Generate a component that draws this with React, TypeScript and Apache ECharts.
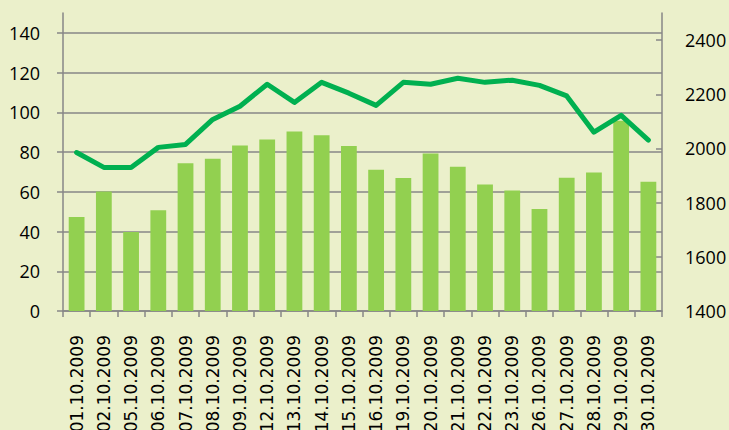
import React, { useEffect, useRef } from "react";
import * as echarts from "echarts";

const categories = [
  "01.10.2009", "02.10.2009", "05.10.2009", "06.10.2009", "07.10.2009", "08.10.2009",
  "09.10.2009", "12.10.2009", "13.10.2009", "14.10.2009", "15.10.2009", "16.10.2009",
  "19.10.2009", "20.10.2009", "21.10.2009", "22.10.2009", "23.10.2009", "26.10.2009",
  "27.10.2009", "28.10.2009", "29.10.2009", "30.10.2009",
];

const barValues = [
  47.3, 60.2, 39.8, 50.7, 74.4, 76.6, 83.3, 86.3, 90.3, 88.5, 83.1,
  71.1, 66.9, 79.3, 72.6, 63.7, 60.7, 51.3, 67.1, 69.7, 95.8, 65.1,
];

const lineValues = [
  1985, 1930, 1930, 2004, 2015, 2107, 2156, 2237, 2170, 2244, 2204,
  2159, 2244, 2237, 2259, 2244, 2252, 2233, 2194, 2060, 2122, 2031,
];

const BG = "#EBF0CB";
const GRID = "#878787";
const YFONT = "Open Sans";
const XFONT = "DejaVu Sans";

export default function App() {
  const ref = useRef<HTMLDivElement>(null);
  useEffect(() => {
    document.body.style.margin = "0";
    document.documentElement.style.overflow = "hidden";
    document.body.style.overflow = "hidden";
    const chart = echarts.init(ref.current!, null, { renderer: "svg" });
    chart.setOption({
      animation: false,
      backgroundColor: BG,
      grid: {
        left: 63,
        right: 67,
        top: 13,
        bottom: 119,
        containLabel: false,
        outerBoundsMode: "none",
      },
      xAxis: {
        type: "category",
        data: categories,
        boundaryGap: true,
        axisLine: { show: true, lineStyle: { color: GRID, width: 1.5 } },
        axisTick: { show: true, length: 6, lineStyle: { color: GRID, width: 1.5 } },
        axisLabel: {
          rotate: 90,
          interval: 0,
          margin: 24,
          color: "#000",
          fontFamily: XFONT,
          fontSize: 17,
        },
        splitLine: { show: false },
      },
      yAxis: [
        {
          type: "value",
          min: 0,
          max: 150,
          interval: 20,
          position: "left",
          axisLine: { show: true, lineStyle: { color: GRID, width: 1.5 } },
          axisTick: { show: true, length: 6, lineStyle: { color: GRID, width: 1.5 } },
          axisLabel: {
            showMaxLabel: false,
            margin: 23,
            color: "#000",
            fontFamily: YFONT,
            fontSize: 18,
          },
          splitLine: { show: true, showMaxLine: false, lineStyle: { color: GRID, width: 1.5 } },
        },
        {
          type: "value",
          min: 1400,
          max: 2500,
          interval: 200,
          position: "right",
          axisLine: { show: true, lineStyle: { color: GRID, width: 1.5 } },
          axisTick: { show: true, inside: true, length: 6, lineStyle: { color: GRID, width: 1.5 } },
          axisLabel: {
            showMaxLabel: false,
            margin: 23,
            color: "#000",
            fontFamily: YFONT,
            fontSize: 18,
            formatter: (v: number) => String(v),
          },
          splitLine: { show: false },
        },
      ],
      series: [
        {
          type: "bar",
          yAxisIndex: 0,
          data: barValues,
          barWidth: "58%",
          itemStyle: { color: "#92D050" },
        },
        {
          type: "line",
          yAxisIndex: 1,
          data: lineValues,
          symbol: "none",
          lineStyle: { color: "#00B050", width: 5, join: "round", cap: "round" },
        },
      ],
    });
    return () => chart.dispose();
  }, []);
  return (
    <div style={{ width: 729, height: 430, overflow: "hidden", background: BG }}>
      <div ref={ref} style={{ width: 729, height: 430, background: BG }} />
    </div>
  );
}
